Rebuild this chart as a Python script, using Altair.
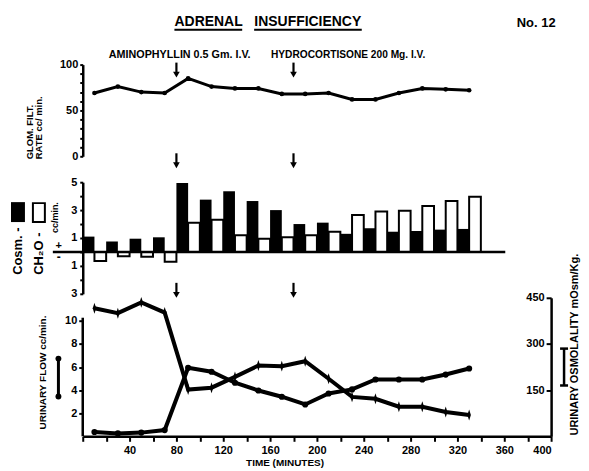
import altair as alt
import pandas as pd

# ---------------- data ----------------
times = [10, 30, 50, 70, 90, 110, 130, 150, 170, 190, 210, 230, 250, 270, 290, 310, 330]
gfr = [69, 76, 70, 69, 85, 76, 74, 74, 68, 68, 69, 62, 62, 69, 74, 73, 72]
c_osm = [1.1, 0.75, 0.95, 1.05, 4.95, 3.75, 4.35, 3.65, 3.0, 2.0, 2.1, 1.3, 1.7, 1.45, 1.5, 1.6, 1.65]
c_h2o = [-0.65, -0.3, -0.35, -0.7, 2.1, 2.3, 1.2, 0.95, 1.05, 1.2, 1.45, 2.65, 2.9, 2.95, 3.3, 3.65, 3.95]
flow = [0.37, 0.25, 0.32, 0.54, 5.93, 5.59, 4.64, 3.97, 3.43, 2.76, 3.71, 4.06, 4.92, 4.92, 4.92, 5.35, 5.87]
osm = [416, 400, 435, 402, 152, 158, 193, 230, 228, 244, 187, 128, 122, 96, 96, 79, 69]
event_times = [80, 180]
event_labels = ["AMINOPHYLLIN 0.5 Gm. I.V.", "HYDROCORTISONE 200 Mg. I.V."]
x_ticks = list(range(0, 401, 20))
gfr_ticks = list(range(0, 101, 10))
clear_ticks = list(range(-3, 6))
flow_ticks = [2, 4, 6, 8, 10]
osm_ticks = [150, 300, 450]

FONT = "Liberation Sans"
W = 470

df = pd.DataFrame({"t": times, "gfr": gfr, "cosm": c_osm, "ch2o": c_h2o,
                   "flow": flow, "osm": osm})
df["b0"] = df["t"] - 10
df["b1"] = df["t"] + 10
df["zero"] = 0
ev = pd.DataFrame({"t": event_times, "label": event_labels})
one = pd.DataFrame({"k": [0]})

xs = alt.Scale(domain=[0, 400], nice=False, zero=False)


def txt(s, x, y, size=10, angle=0, align="center", baseline="alphabetic"):
    return alt.Chart(one).mark_text(
        text=s, font=FONT, fontSize=size, fontWeight="bold", angle=angle,
        align=align, baseline=baseline, color="black"
    ).encode(x=alt.value(x), y=alt.value(y))


def hline(x1, x2, y, w=2):
    return alt.Chart(one).mark_rule(color="black", strokeWidth=w).encode(
        x=alt.value(x1), x2=alt.value(x2), y=alt.value(y))


def vline(x, y1, y2, w=2):
    return alt.Chart(one).mark_rule(color="black", strokeWidth=w).encode(
        x=alt.value(x), y=alt.value(y1), y2=alt.value(y2))


def dot(x, y, size=30):
    return alt.Chart(one).mark_point(filled=True, color="black", opacity=1, size=size).encode(
        x=alt.value(x), y=alt.value(y))


def arrows(y_top, y_head, x_enc):
    shaft = alt.Chart(ev).mark_rule(color="black", strokeWidth=2.2).encode(
        x=x_enc, y=alt.value(y_top), y2=alt.value(y_head))
    head = alt.Chart(ev).mark_point(shape="triangle-down", filled=True, color="black",
                                    opacity=1, size=45).encode(x=x_enc, y=alt.value(y_head))
    return [shaft, head]


# ---------------- top panel: GFR ----------------
xt = alt.X("t:Q", scale=xs, axis=None)
yt = alt.Y("gfr:Q", scale=alt.Scale(domain=[0, 100], nice=False),
           axis=alt.Axis(values=gfr_ticks, labelExpr="datum.value % 50 == 0 ? datum.label : ''",
                         title=None, tickSize=3, labelPadding=2, labelFontSize=11))
top = alt.layer(
    alt.Chart(df).mark_line(color="black", strokeWidth=3).encode(x=xt, y=yt),
    alt.Chart(df).mark_point(filled=True, color="black", size=22, opacity=1).encode(x=xt, y=yt),
    *arrows(-2, 10, xt),
    txt("ADRENAL", 126.3, -39, 14), txt("INSUFFICIENCY", 225.8, -39, 14),
    hline(92, 160, -35, 1.8), hline(172, 280, -35, 1.8),
    txt("No. 12", 455, -38, 13),
    txt(event_labels[0], 97.3, -7, 10.8), txt(event_labels[1], 266.3, -7, 10.2),
    txt("GLOM. FILT.", -53, 95, 9.5, 270, "left", "middle"),
    txt("RATE cc/ min.", -43.5, 95, 9.5, 270, "left", "middle"),
).properties(width=W, height=92)

# ---------------- middle panel: clearances ----------------
xm = alt.X("b0:Q", scale=xs, axis=None)
xm_ev = alt.X("t:Q", scale=xs, axis=None)
yaxis_m = alt.Axis(values=clear_ticks,
                   labelExpr="abs(datum.value) % 2 == 1 ? '' + abs(datum.value) : ''",
                   title=None, tickSize=3, labelPadding=3, labelFontSize=11)
ysc_m = alt.Scale(domain=[-3, 5], nice=False)
black_bars = alt.Chart(df).mark_bar(color="black").encode(
    x=xm, x2="t", y=alt.Y("cosm:Q", scale=ysc_m, axis=yaxis_m), y2="zero")
white_bars = alt.Chart(df).mark_bar(fill="white", stroke="black", strokeWidth=2).encode(
    x=alt.X("t:Q", scale=xs, axis=None), x2="b1",
    y=alt.Y("ch2o:Q", scale=ysc_m, axis=yaxis_m), y2="zero")
mid = alt.layer(
    black_bars, white_bars,
    hline(-30, 424, 70, 2.5),
    *arrows(-29, -17, xm_ev),
    alt.Chart(one).mark_rect(color="black").encode(
        x=alt.value(-72), x2=alt.value(-58), y=alt.value(20), y2=alt.value(40)),
    alt.Chart(one).mark_rect(fill="white", stroke="black", strokeWidth=2).encode(
        x=alt.value(-50), x2=alt.value(-38), y=alt.value(21), y2=alt.value(40)),
    txt("Cosm. -", -65, 93, 13, 270, "left", "middle"),
    txt("CH\u2082O -", -44, 93, 13, 270, "left", "middle"),
    txt("cc/min.", -27.5, 51, 9, 270, "left", "middle"),
    txt("+", -24, 67, 11),
    txt("-", -24, 79, 12),
).properties(width=W, height=112)

# ---------------- bottom panel: flow & osmolality ----------------
x_axis_b = alt.Axis(values=x_ticks,
                    labelExpr="datum.value > 0 && datum.value % 40 == 0 ? datum.label : ''",
                    title=None, tickSize=5, labelPadding=3, labelFontSize=11)
xb = alt.X("t:Q", scale=xs, axis=x_axis_b)
yf = alt.Y("flow:Q", scale=alt.Scale(domain=[0, 12], nice=False),
           axis=alt.Axis(values=flow_ticks, title=None, domain=False, tickSize=4,
                         labelPadding=2, orient="left", labelFontSize=11))
yo = alt.Y("osm:Q", scale=alt.Scale(domain=[0, 450], nice=False),
           axis=alt.Axis(values=osm_ticks, title=None, orient="left", offset=-W,
                         tickSize=5, labelPadding=2, labelFontSize=11))

flow_layer = alt.layer(
    alt.Chart(df).mark_line(color="black", strokeWidth=4).encode(x=xb, y=yf),
    alt.Chart(df).mark_point(filled=True, color="black", size=38, opacity=1).encode(x=xb, y=yf),
    vline(0, 20, 139, 2.5),
    *arrows(-15, -3, alt.X("t:Q", scale=xs, axis=x_axis_b)),
    txt("URINARY FLOW cc/min.", -39.5, 75, 10, 270, "center", "middle"),
    vline(-24.4, 61, 99, 3), dot(-24.4, 61, 35), dot(-24.4, 99, 35),
    txt("URINARY OSMOLALITY mOsm/Kg.", 494, 47, 11, 270, "center", "middle"),
    vline(483, 51, 88, 2.5), hline(479, 487, 51, 2.5), hline(479, 487, 88, 2.5),
    txt("TIME (MINUTES)", 203, 169, 10),
)
osm_layer = alt.layer(
    alt.Chart(df).mark_line(color="black", strokeWidth=4).encode(x=xb, y=yo),
    alt.Chart(df).mark_point(shape="M0,-1L0.32,0L0,1L-0.32,0Z", filled=True, color="black",
                             size=120, opacity=1).encode(x=xb, y=yo),
)
bottom = alt.layer(flow_layer, osm_layer).resolve_scale(y="independent").properties(
    width=W, height=139)

inner = alt.vconcat(mid, bottom, spacing=4, bounds="flush")
chart = alt.vconcat(top, inner, spacing=26, bounds="flush").properties(
    padding={"left": 3, "top": 6, "right": 0, "bottom": 0},
    background="white",
).configure_view(stroke=None).configure_axis(
    domainColor="black", tickColor="black", labelColor="black", domainWidth=2.5,
    tickWidth=2, grid=False, labelFont=FONT, labelFontWeight="bold"
)

chart.save("out.html", embed_options={"renderer": "svg", "actions": False})
